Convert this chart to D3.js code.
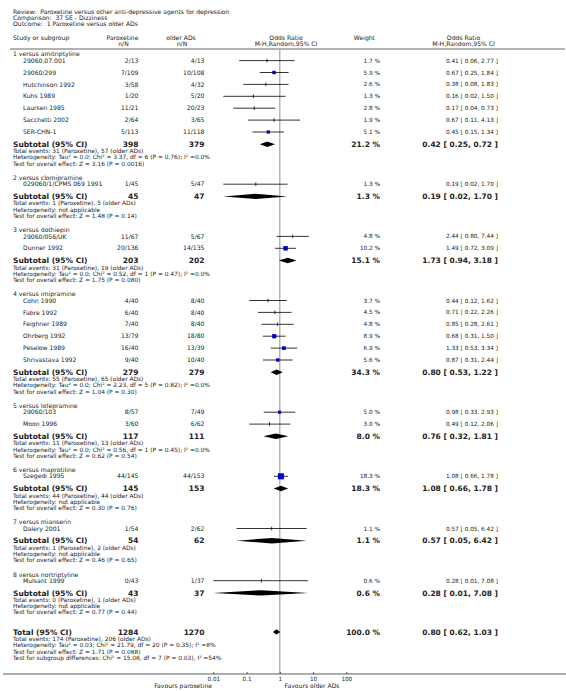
<!DOCTYPE html>
<html><head><meta charset="utf-8">
<script src="https://cdn.jsdelivr.net/npm/d3@7"></script>
<style>
html,body{margin:0;padding:0;background:#fff;}
svg text{font-family:"DejaVu Sans",Verdana,sans-serif;fill:#222;white-space:pre;}
</style></head>
<body><svg id="c" width="566" height="691"></svg>
<script>
// ---------------- DATA ----------------
const headerLines = ["Review:  Paroxetine versus other anti-depressive agents for depression",
  "Comparison:  37 SE - Dizziness", "Outcome:  1 Paroxetine versus older ADs"];
const groupNames = ["1 versus amitriptyline","2 versus clomipramine","3 versus dothiepin","4 versus imipramine",
  "5 versus lofepramine","6 versus maprotiline","7 versus mianserin","8 versus nortriptyline"];
const studyGroup = [0,0,0,0,0,0,0, 1, 2,2, 3,3,3,3,3,3, 4,4, 5, 6, 7];
const studyNames = ["29060.07.001","29060/299","Hutchinson 1992","Kuhs 1989","Laursen 1985","Sacchetti 2002","SER-CHN-1",
  "029060/1/CPMS 069 1991","29060/056/UK","Dunner 1992","Cohn 1990","Fabre 1992","Feighner 1989","Ohrberg 1992",
  "Peselow 1989","Shrivastava 1992","29060/103","Moon 1996","Szegedi 1995","Dalery 2001","Mulsant 1999"];
const parEvents = [2,7,3,1,11,2,5, 1, 11,20, 4,6,7,13,16,9, 8,3, 44, 1, 0];
const parTotal  = [13,109,58,20,21,64,113, 45, 67,136, 40,40,40,79,40,40, 57,60, 145, 54, 43];
const oldEvents = [4,10,4,5,20,3,11, 5, 5,14, 8,8,8,18,13,10, 7,6, 44, 2, 1];
const oldTotal  = [13,108,32,20,23,65,118, 47, 67,135, 40,40,40,80,39,40, 49,62, 153, 62, 37];
const studyWeight = [1.7,5.9,2.6,1.3,2.8,1.9,5.1, 1.3, 4.8,10.2, 3.7,4.5,4.8,8.9,6.9,5.6, 5.0,3.0, 18.3, 1.1, 0.6];
const studyOR = [0.41,0.67,0.38,0.16,0.17,0.67,0.45, 0.19, 2.44,1.49, 0.44,0.71,0.85,0.68,1.33,0.87, 0.98,0.49, 1.08, 0.57, 0.28];
const studyLo = [0.06,0.25,0.08,0.02,0.04,0.11,0.15, 0.02, 0.80,0.72, 0.12,0.22,0.28,0.31,0.53,0.31, 0.33,0.12, 0.66, 0.05, 0.01];
const studyHi = [2.77,1.84,1.83,1.50,0.73,4.13,1.34, 1.70, 7.44,3.09, 1.62,2.26,2.61,1.50,3.34,2.44, 2.93,2.06, 1.78, 6.42, 7.08];
const subParN = [398,45,203,279,117,145,54,43];
const subOldN = [379,47,202,279,111,153,62,37];
const subWeight = [21.2,1.3,15.1,34.3,8.0,18.3,1.1,0.6];
const subOR = [0.42,0.19,1.73,0.80,0.76,1.08,0.57,0.28];
const subLo = [0.25,0.02,0.94,0.53,0.32,0.66,0.05,0.01];
const subHi = [0.72,1.70,3.18,1.22,1.81,1.78,6.42,7.08];
const subEvents = ["Total events: 31 (Paroxetine), 57 (older ADs)","Total events: 1 (Paroxetine), 5 (older ADs)",
  "Total events: 31 (Paroxetine), 19 (older ADs)","Total events: 55 (Paroxetine), 65 (older ADs)",
  "Total events: 11 (Paroxetine), 13 (older ADs)","Total events: 44 (Paroxetine), 44 (older ADs)",
  "Total events: 1 (Paroxetine), 2 (older ADs)","Total events: 0 (Paroxetine), 1 (older ADs)"];
const subHet = ["Heterogeneity: Tau² = 0.0; Chi² = 3.37, df = 6 (P = 0.76); I² =0.0%","Heterogeneity: not applicable",
  "Heterogeneity: Tau² = 0.0; Chi² = 0.52, df = 1 (P = 0.47); I² =0.0%","Heterogeneity: Tau² = 0.0; Chi² = 2.23, df = 5 (P = 0.82); I² =0.0%",
  "Heterogeneity: Tau² = 0.0; Chi² = 0.56, df = 1 (P = 0.45); I² =0.0%","Heterogeneity: not applicable",
  "Heterogeneity: not applicable","Heterogeneity: not applicable"];
const subTest = ["Test for overall effect: Z = 3.16 (P = 0.0016)","Test for overall effect: Z = 1.48 (P = 0.14)",
  "Test for overall effect: Z = 1.75 (P = 0.080)","Test for overall effect: Z = 1.04 (P = 0.30)",
  "Test for overall effect: Z = 0.62 (P = 0.54)","Test for overall effect: Z = 0.30 (P = 0.76)",
  "Test for overall effect: Z = 0.46 (P = 0.65)","Test for overall effect: Z = 0.77 (P = 0.44)"];
const totalParN = 1284, totalOldN = 1270, totalWeight = 100.0, totalOR = 0.80, totalLo = 0.62, totalHi = 1.03;
const totalNotes = ["Total events: 174 (Paroxetine), 206 (older ADs)",
  "Heterogeneity: Tau² = 0.03; Chi² = 21.79, df = 20 (P = 0.35); I² =8%",
  "Test for overall effect: Z = 1.71 (P = 0.088)",
  "Test for subgroup differences: Chi² = 15.08, df = 7 (P = 0.03), I² =54%"];
const xTickValues = [0.01, 0.1, 1, 10, 100];
const xTickLabels = ["0.01","0.1","1","10","100"];
const favoursLeft = "Favours paroxetine", favoursRight = "Favours older ADs";

// ---------------- LAYOUT ----------------
const svg = d3.select("#c");
const x = d3.scaleLog().domain([0.01, 100]).range([213.3, 346.3]);
const f2 = d3.format(".2f"), f1 = d3.format(".1f");
const ciText = (o,l,h) => `${f2(o)} [ ${f2(l)}, ${f2(h)} ]`;
const FS = 6.1, FN = 5.9, FC = 5.75, FB = 7.5;
const col = {label:13, study:23, par:138.5, old:204.5, parH:122.5, oldH:181, weight:380, ci:498, ciH:463.5, plotH:286};

// row positions
const gap = {hdrStudy:6.3, study:11.9, sub:12.2, firstNote:7.0, note:6.2, next:14.3, total:19.6, totFirst:7.0, totNote:6.5};
const rows = [];
let y = 54.3;
groupNames.forEach((g, gi) => {
  if (gi > 0) y += gap.next;
  rows.push({type:"hdr", y, gi});
  const idx = d3.range(studyGroup.length).filter(i => studyGroup[i] === gi);
  idx.forEach((si, k) => { y += (k === 0 ? gap.hdrStudy : gap.study); rows.push({type:"study", y, si}); });
  y += gap.sub; rows.push({type:"sub", y, gi});
  [subEvents[gi], subHet[gi], subTest[gi]].forEach((t, k) => { y += (k === 0 ? gap.firstNote : gap.note); rows.push({type:"note", y, t}); });
});
y += gap.total; rows.push({type:"total", y});
totalNotes.forEach((t, k) => { y += (k === 0 ? gap.totFirst : gap.totNote); rows.push({type:"note", y, t}); });

function txt(xp, yp, s, opt={}) {
  return svg.append("text").attr("x", xp).attr("y", yp).attr("dy","0.35em")
    .attr("font-size", opt.size || FS).attr("font-weight", opt.bold ? "bold" : null)
    .attr("text-anchor", opt.anchor || "start").text(s);
}

// header
[11.7, 17.6, 24].forEach((yy, i) => txt(col.label, yy, headerLines[i]));
txt(col.label, 38.3, "Study or subgroup");
txt(col.parH, 38.3, "Paroxetine", {anchor:"middle"}); txt(col.parH + 1, 43.8, "n/N", {anchor:"middle"});
txt(col.oldH, 38.3, "older ADs", {anchor:"middle"}); txt(col.oldH + 1, 43.8, "n/N", {anchor:"middle"});
txt(col.plotH, 38.3, "Odds Ratio", {anchor:"middle"}); txt(col.plotH, 43.8, "M-H,Random,95% CI", {anchor:"middle"});
txt(375, 38.3, "Weight", {anchor:"end"});
txt(col.ciH, 38.3, "Odds Ratio", {anchor:"middle"}); txt(col.ciH, 43.8, "M-H,Random,95% CI", {anchor:"middle"});
svg.append("line").attr("x1", 10).attr("x2", 565).attr("y1", 49).attr("y2", 49)
  .attr("stroke", "#999").attr("stroke-width", 1.5);

// reference line at OR = 1
const axisY = 674;
svg.append("line").attr("x1", x(1)).attr("x2", x(1)).attr("y1", 50).attr("y2", axisY)
  .attr("stroke", "#aaa").attr("stroke-width", 1.3);

const side = d3.scaleSqrt().domain([0, 20]).range([0, 6.3]);

rows.forEach(r => {
  if (r.type === "hdr") txt(col.label, r.y, groupNames[r.gi]);
  else if (r.type === "note") txt(col.label, r.y, r.t, {size:FN});
  else if (r.type === "study") {
    const i = r.si;
    txt(col.study, r.y, studyNames[i]);
    txt(col.par, r.y, `${parEvents[i]}/${parTotal[i]}`, {anchor:"end"});
    txt(col.old, r.y, `${oldEvents[i]}/${oldTotal[i]}`, {anchor:"end"});
    txt(col.weight, r.y, `${f1(studyWeight[i])} %`, {anchor:"end", size:FC});
    txt(col.ci, r.y, ciText(studyOR[i], studyLo[i], studyHi[i]), {anchor:"end", size:FC});
    svg.append("line").attr("x1", x(studyLo[i])).attr("x2", x(studyHi[i])).attr("y1", r.y).attr("y2", r.y)
      .attr("stroke", "#000").attr("stroke-width", 0.8);
    if (studyWeight[i] >= 5) {
      const s = side(studyWeight[i]);
      svg.append("rect").attr("x", x(studyOR[i]) - s/2).attr("y", r.y - s/2).attr("width", s).attr("height", s)
        .attr("fill", "#0000cc");
    } else {
      svg.append("line").attr("x1", x(studyOR[i])).attr("x2", x(studyOR[i])).attr("y1", r.y - 1.8).attr("y2", r.y + 1.8)
        .attr("stroke", "#000").attr("stroke-width", 0.8);
    }
  } else if (r.type === "sub" || r.type === "total") {
    const isT = r.type === "total";
    const o = isT ? totalOR : subOR[r.gi], lo = isT ? totalLo : subLo[r.gi], hi = isT ? totalHi : subHi[r.gi];
    txt(col.label, r.y, isT ? "Total (95% CI)" : "Subtotal (95% CI)", {bold:true, size:FB});
    txt(col.par, r.y, isT ? totalParN : subParN[r.gi], {anchor:"end", bold:true, size:FB});
    txt(col.old, r.y, isT ? totalOldN : subOldN[r.gi], {anchor:"end", bold:true, size:FB});
    txt(col.weight, r.y, `${f1(isT ? totalWeight : subWeight[r.gi])} %`, {anchor:"end", bold:true, size:FB});
    txt(col.ci, r.y, ciText(o, lo, hi), {anchor:"end", bold:true, size:FB});
    const h = 2.7;
    svg.append("path").attr("d", `M${x(lo)},${r.y}L${x(o)},${r.y - h}L${x(hi)},${r.y}L${x(o)},${r.y + h}Z`).attr("fill", "#000");
  }
});

// axis
svg.append("line").attr("x1", 3).attr("x2", 566).attr("y1", axisY).attr("y2", axisY).attr("stroke", "#333").attr("stroke-width", 0.8);
const ax = svg.append("g").attr("transform", `translate(0,${axisY})`)
  .call(d3.axisBottom(x).tickValues(xTickValues).tickFormat((d, i) => xTickLabels[i]).tickSize(-2).tickPadding(3));
ax.select(".domain").remove();
ax.selectAll("line").attr("stroke", "#333").attr("stroke-width", 0.8);
ax.selectAll("text").attr("font-size", 5.7).attr("font-family", "DejaVu Sans").attr("fill", "#222");
txt(212, 686, favoursLeft, {anchor:"end"});
txt(284.5, 686, favoursRight);
</script></body></html>
